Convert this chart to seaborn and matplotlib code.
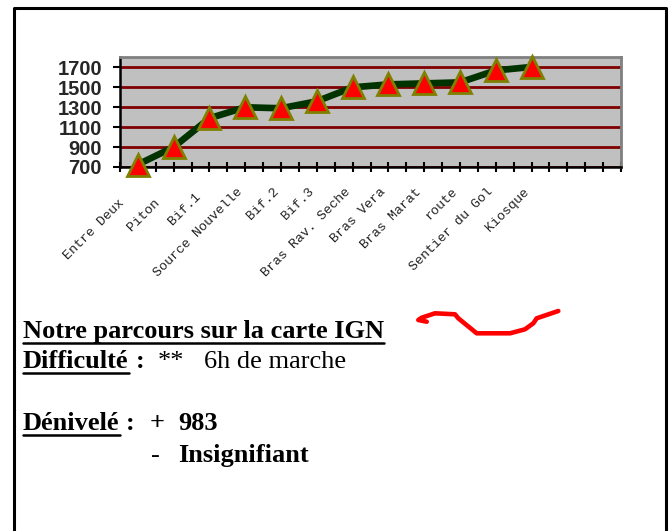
import matplotlib
matplotlib.use("Agg")
import matplotlib.pyplot as plt
import matplotlib.transforms as mtransforms
import seaborn as sns
import numpy as np
from matplotlib.lines import Line2D
from matplotlib.ticker import FixedLocator

# ---- data ----
stops = ["Entre Deux  ", "Piton  ", "Bif.1 ", "Source Nouvelle", "Bif.2", "Bif.3",
         "Bras Rav. Seche", "Bras Vera", "Bras Marat", "route",
         "Sentier du Gol", "Kiosque", "", ""]
altitudes = [725, 900, 1190, 1300, 1290, 1360, 1500, 1530, 1540, 1550, 1670, 1705]
y_ticks = [700, 900, 1100, 1300, 1500, 1700]

# decorative red trace (figure pixel coords)
trace_x = [426.7, 418.3, 421.7, 435, 455, 458.3, 476.7, 510, 525, 533.3, 536.7, 558.3]
trace_y = [321.7, 320, 317.7, 313.3, 314.3, 318.3, 333.3, 333.3, 329.3, 323.3, 318.3, 311]

W, H, DPI = 670, 531, 100
sns.set_style("white")
plt.rcParams["font.family"] = ["Liberation Sans", "DejaVu Sans"]

fig = plt.figure(figsize=(W / DPI, H / DPI), dpi=DPI)
fig.patch.set_facecolor("white")

def fx(px):
    return px / W

def fy(py):
    return 1 - py / H

ax_l, ax_r, ax_t, ax_b = 120, 621, 57.5, 167
ax = fig.add_axes([fx(ax_l), fy(ax_b), (ax_r - ax_l) / W, (ax_b - ax_t) / H])
ax.set_facecolor("#C0C0C0")

pos = list(range(len(altitudes)))
sns.lineplot(x=pos, y=altitudes, ax=ax, color="#003300", linewidth=4.8,
             marker="^", markersize=15.5, markerfacecolor="#FF0000",
             markeredgecolor="#808000", markeredgewidth=2, zorder=5,
             clip_on=False)

ax.set_xlim(-0.5, len(stops) - 0.5)
ax.set_ylim(700, 1800)
ax.set_yticks(y_ticks)
ax.set_yticklabels([str(v) for v in y_ticks], fontsize=14.5, fontweight="bold",
                   family="Liberation Sans")
ax.yaxis.grid(True, color="#800000", linewidth=2)
ax.xaxis.grid(False)
ax.set_axisbelow(True)

ax.xaxis.set_major_locator(FixedLocator(list(range(len(stops)))))
ax.xaxis.set_minor_locator(FixedLocator(list(np.arange(-0.5, len(stops), 1.0))))
ax.set_xticklabels(stops, rotation=45, ha="right", fontsize=9.5,
                   family="Liberation Mono", color="#222222")
shift = mtransforms.ScaledTranslation(-5 / DPI, 0, fig.dpi_scale_trans)
for lab in ax.get_xticklabels():
    lab.set_transform(lab.get_transform() + shift)
ax.tick_params(axis="x", which="both", direction="inout", length=7, width=1.5,
               color="black", bottom=True, pad=10)
ax.tick_params(axis="y", direction="out", length=5, width=1.5, color="black",
               left=True, pad=8)
ax.set_xlabel("")
ax.set_ylabel("")

for s in ["left", "bottom"]:
    ax.spines[s].set_color("black")
    ax.spines[s].set_linewidth(1.8)
for s in ["top", "right"]:
    ax.spines[s].set_color("#808080")
    ax.spines[s].set_linewidth(2)

# ---- page frame ----
frame_kw = dict(color="black", linewidth=2.2, transform=fig.transFigure)
fig.add_artist(Line2D([fx(13.5), fx(13.5), fx(665.5), fx(665.5)],
                      [0, fy(8.3), fy(8.3), 0], **frame_kw))

# ---- red trace ----
fig.add_artist(Line2D([fx(v) for v in trace_x], [fy(v) for v in trace_y],
                      color="#FF0000", linewidth=3.3, solid_capstyle="round",
                      solid_joinstyle="round", transform=fig.transFigure))

# ---- text block ----
serif = ["Liberation Serif", "DejaVu Serif"]
FS = 19
renderer = fig.canvas.get_renderer()

def put(x, y, s, bold=False, underline=False):
    t = fig.text(fx(x), fy(y), s, fontsize=FS, family=serif,
                 fontweight="bold" if bold else "normal",
                 ha="left", va="baseline", color="black")
    if underline:
        bb = t.get_window_extent(renderer)
        fig.add_artist(Line2D([bb.x0 / W, bb.x1 / W], [fy(y + 4.5), fy(y + 4.5)],
                              color="black", linewidth=1.8,
                              transform=fig.transFigure))
    return t

put(23, 338, "Notre parcours sur la carte IGN", bold=True, underline=True)
put(23, 368, "Difficulté", bold=True, underline=True)
put(136, 368, ":", bold=True)
put(158, 368, "**")
put(204, 368, "6h de marche")
put(23, 430, "Dénivelé", bold=True, underline=True)
put(126, 430, ":", bold=True)
put(150, 430, "+", bold=True)
put(178, 430, "983", bold=True)
put(151, 462, "-")
put(178, 462, "Insignifiant", bold=True)

fig.savefig("out.png", dpi=DPI)
